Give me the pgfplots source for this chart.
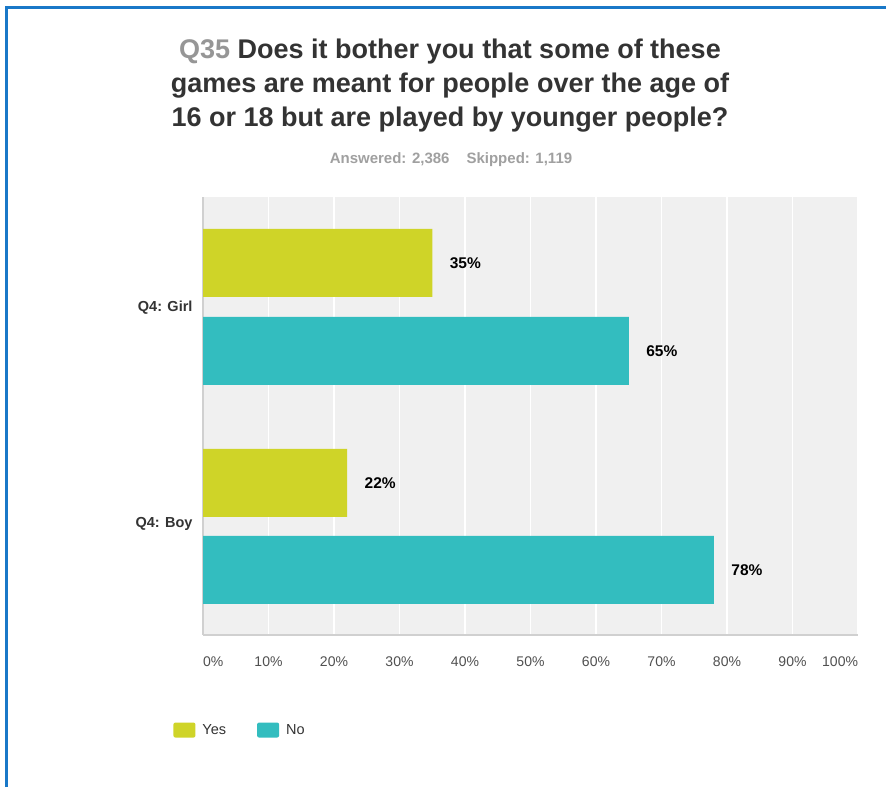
\documentclass[border=0pt]{standalone}
\usepackage{fontspec}
\setmainfont{Liberation Sans}
\usepackage{pgfplots}
\pgfplotsset{compat=1.18}
\definecolor{yesc}{RGB}{207,212,40}
\definecolor{noc}{RGB}{51,189,191}
\definecolor{bggray}{RGB}{240,240,240}
\definecolor{linegray}{RGB}{208,208,208}
\definecolor{darktext}{RGB}{51,51,51}
\definecolor{ticktext}{RGB}{80,80,80}
\definecolor{subgray}{RGB}{160,160,160}
\definecolor{qgray}{RGB}{150,150,150}
\definecolor{borderblue}{RGB}{25,120,200}
\begin{document}
\begin{tikzpicture}[x=1pt,y=1pt]
\useasboundingbox (0pt,0pt) rectangle (886pt,787pt);
\fill[white] (0pt,0pt) rectangle (886pt,787pt);
\draw[borderblue, line width=2.5pt] (6.5pt,0pt) -- (6.5pt,779.5pt) -- (886pt,779.5pt);
\node[align=center, font=\bfseries\fontsize{27}{34}\selectfont, text=darktext] at (450pt,701pt)
  {{\color{qgray}Q35} Does it bother you that some of these\\games are meant for people over the age of\\16 or 18 but are played by younger people?};
\node[font=\bfseries\fontsize{15}{17}\selectfont, text=subgray] at (451pt,627pt) {Answered: 2,386\hspace{17pt}Skipped: 1,119};
\begin{axis}[
  at={(203pt,152pt)}, anchor=south west,
  scale only axis, width=655pt, height=438pt,
  xmin=0, xmax=100, ymin=0, ymax=438,
  xbar, bar width=68,
  axis background/.style={fill=bggray},
  xmajorgrids, grid style={white, line width=1.5pt},
  axis x line*=bottom, axis y line*=left,
  axis line style={linegray, line width=1.5pt},
  major tick length=0pt,
  /pgf/number format/assume math mode=true,
  xtick={0,10,...,100},
  xticklabels={\rlap{0\%},10\%,20\%,30\%,40\%,50\%,60\%,70\%,80\%,90\%,\llap{100\%}},
  xticklabel style={font=\fontsize{14}{16}\selectfont, text=ticktext, yshift=-18pt},
  ytick={327,111},
  yticklabels={Q4: Girl, Q4: Boy},
  yticklabel style={font=\bfseries\fontsize{14.5}{16}\selectfont, text=darktext, xshift=-7pt},
  point meta=x,
  nodes near coords={\pgfmathprintnumber{\pgfplotspointmeta}\%},
  nodes near coords style={font=\bfseries\fontsize{15.5}{17}\selectfont, text=black, anchor=west, xshift=14pt},
  legend columns=2,
  legend style={at={(-0.05,-0.217)}, anchor=west, draw=none, fill=none,
    font=\fontsize{14.5}{16}\selectfont, text=darktext,
    /tikz/every even column/.append style={column sep=29pt}},
  legend image code/.code={\fill[#1, rounded corners=2pt] (0pt,-7.5pt) rectangle (22pt,7.5pt);},
]
\addplot[fill=yesc, draw=none, bar shift=0pt] coordinates {(35,372) (22,152)};
\addplot[fill=noc, draw=none, bar shift=0pt] coordinates {(65,284) (78,65)};
\legend{\hspace{5pt}Yes, \hspace{5pt}No}
\end{axis}
\end{tikzpicture}
\end{document}
